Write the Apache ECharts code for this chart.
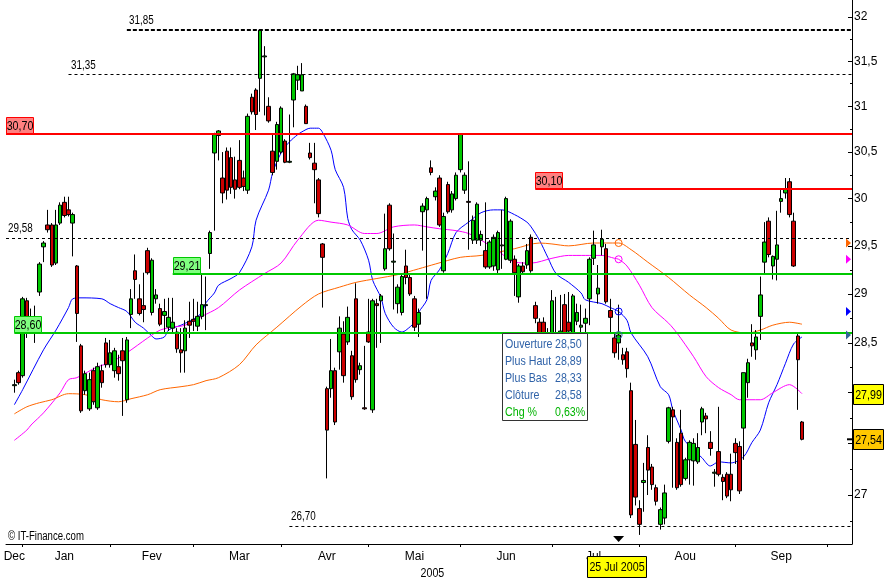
<!DOCTYPE html>
<html>
<head>
<meta charset="utf-8">
<script src="https://cdn.jsdelivr.net/npm/echarts@6/dist/echarts.min.js"></script>
<style>
html,body{margin:0;padding:0;background:#ffffff;}
#chart{width:889px;height:580px;}
</style>
</head>
<body>
<div id="chart"></div>
<script>
// ---------------- DATA ----------------
// trading-day index of the first candle (30 Dec 2004)
const firstCandleIndex = 2;
const open = [
28.07,28.20,28.17,28.93,28.72,28.70,29.02,29.49,29.72,29.72,
29.32,29.74,29.96,29.88,29.74,29.29,28.47,28.02,27.84,28.22,
27.85,28.22,28.50,28.28,28.22,28.26,28.42,27.93,28.79,29.24,
28.95,28.88,29.45,28.81,28.95,28.85,28.78,28.66,28.65,28.61,
28.43,28.42,28.72,28.74,28.67,28.77,28.88,29.42,30.49,30.68,
30.22,30.51,30.44,30.20,30.41,30.22,30.09,31.10,31.18,31.31,
31.55,31.00,30.51,30.40,30.50,30.62,30.39,31.07,31.29,31.17,
31.00,30.49,30.38,30.20,29.52,28.04,28.04,28.22,28.41,28.59,
28.51,28.37,28.95,28.23,27.85,28.61,27.83,28.90,28.93,29.26,
29.93,29.33,28.90,28.81,29.29,29.17,28.95,28.69,29.86,29.88,
30.33,30.02,30.22,29.24,30.15,29.88,30.00,30.31,30.09,29.97,
29.56,29.56,29.56,29.45,29.28,29.29,29.25,29.50,29.36,29.35,
29.36,28.97,29.29,29.30,29.59,28.88,28.71,28.71,28.58,28.55,
28.55,28.58,28.89,28.71,28.55,28.72,28.66,28.70,28.95,29.37,
29.00,29.49,29.47,28.83,28.55,28.50,28.38,28.41,28.02,27.49,
26.87,27.12,27.46,27.27,27.07,26.72,26.78,27.52,27.83,27.51,
27.60,27.16,27.34,27.33,27.32,27.71,27.77,27.51,27.21,27.42,
27.17,27.20,27.20,27.50,27.47,27.65,28.10,28.50,28.43,28.77,
29.33,29.76,29.29,29.36,29.97,30.06,30.18,29.76,28.57,27.71
];
const high = [
28.13,28.22,28.97,28.96,28.85,28.88,29.33,29.55,29.88,29.74,
29.88,29.96,30.02,30.02,29.85,29.30,28.49,28.22,28.20,28.25,
28.30,28.28,28.55,28.53,28.45,28.38,28.55,28.56,29.05,29.41,
29.10,29.22,29.48,29.37,29.05,28.90,28.95,28.96,28.96,28.65,
28.65,28.73,28.92,28.95,28.92,29.21,29.18,29.66,30.71,30.74,
30.50,30.55,30.55,30.45,30.63,30.30,30.92,31.14,31.20,31.85,
31.67,31.10,30.70,30.83,31.00,30.64,30.91,31.37,31.45,31.48,
31.02,30.60,30.60,30.22,29.53,28.06,28.54,28.25,28.77,28.72,
28.87,28.42,29.11,28.30,28.47,28.95,28.95,28.95,29.00,29.84,
29.95,29.63,29.10,29.20,29.46,29.20,28.98,28.85,29.95,30.02,
30.41,30.12,30.25,29.85,30.18,30.08,30.28,30.70,30.28,30.40,
29.82,29.96,29.66,29.96,29.56,29.62,29.66,29.88,30.02,29.78,
29.40,29.31,29.33,29.52,29.62,28.92,28.75,28.76,28.65,29.04,
28.97,28.99,29.00,29.02,29.00,28.90,28.89,28.85,29.38,29.66,
29.30,29.67,29.52,28.95,28.60,28.89,28.45,28.45,28.10,27.73,
26.95,27.31,27.58,27.30,27.10,26.88,27.10,27.86,27.86,27.55,
27.83,27.36,27.53,27.55,27.60,27.86,27.80,27.62,27.25,27.86,
27.20,27.22,27.40,27.55,27.52,28.20,28.34,28.69,28.63,29.18,
29.75,29.80,29.40,29.87,30.10,30.22,30.22,29.85,28.60,27.72
];
const low = [
28.00,28.08,28.15,28.55,28.62,28.50,28.98,29.33,29.64,29.28,
29.30,29.72,29.80,29.81,29.39,28.51,27.80,27.98,27.82,27.88,
27.83,28.05,28.25,28.25,28.15,28.12,27.77,27.90,28.65,28.95,
28.78,28.71,29.20,28.78,28.90,28.67,28.60,28.62,28.60,28.40,
28.20,28.20,28.55,28.62,28.62,28.74,28.63,29.26,29.66,30.41,
29.95,29.99,30.05,30.00,30.10,30.08,30.05,30.91,30.74,30.94,
30.90,30.82,30.25,30.31,30.48,30.38,30.38,30.77,31.18,31.17,
30.81,30.42,29.95,29.80,28.86,27.16,27.95,27.68,28.23,28.10,
28.48,27.93,28.10,28.18,27.83,28.50,27.80,28.45,28.50,29.24,
29.45,28.84,28.80,28.78,29.10,28.98,28.62,28.56,29.45,28.95,
30.25,29.98,29.70,29.22,29.84,29.85,29.98,30.28,30.05,29.46,
29.52,29.52,29.50,29.26,29.26,29.24,29.20,29.26,29.35,29.32,
28.98,28.91,29.20,29.26,29.22,28.70,28.45,28.45,28.45,28.50,
28.50,28.50,28.55,28.55,28.50,28.68,28.58,28.55,28.68,29.30,
28.90,29.40,28.90,28.60,28.35,28.33,28.28,28.15,26.78,26.90,
26.62,26.84,27.00,27.05,26.90,26.67,26.72,27.50,27.07,27.05,
27.08,27.14,27.10,27.09,27.30,27.58,27.60,27.38,27.08,27.18,
26.95,26.97,26.94,27.30,27.01,27.34,27.95,28.36,28.33,28.53,
29.21,29.38,29.15,29.14,29.85,30.00,29.80,29.28,27.83,27.53
];
const close = [
28.08,28.10,28.95,28.70,28.76,28.68,29.31,29.53,29.67,29.30,
29.72,29.93,29.82,29.83,29.83,28.80,27.82,28.19,28.13,27.91,
28.26,28.10,28.28,28.40,28.42,28.19,28.32,28.53,28.95,29.15,
28.80,28.84,29.22,29.35,28.99,28.69,28.82,28.76,28.71,28.44,
28.40,28.65,28.68,28.72,28.77,28.89,28.89,29.64,30.69,30.73,
30.06,30.09,30.12,30.10,30.12,30.13,30.89,30.94,30.91,31.85,
31.56,30.84,30.28,30.80,30.98,30.39,30.40,31.36,31.35,31.35,
30.81,30.44,30.31,29.84,29.38,27.63,28.22,27.71,28.65,28.17,
28.76,27.96,28.13,28.27,27.84,28.51,28.93,28.88,28.98,29.47,
29.47,29.34,29.07,29.18,29.17,29.00,28.66,28.81,29.92,30.00,
30.28,30.08,29.72,29.81,29.86,30.05,30.25,30.70,30.25,29.96,
29.77,29.94,29.62,29.28,29.54,29.59,29.64,29.51,30.00,29.76,
29.22,29.29,29.23,29.45,29.24,28.75,28.55,28.52,28.55,28.93,
28.60,28.62,28.58,28.62,28.98,28.81,28.68,28.75,29.36,29.51,
29.06,29.57,28.92,28.76,28.40,28.58,28.33,28.24,26.81,26.98,
26.72,27.14,27.24,27.10,26.94,26.86,27.02,27.85,27.76,27.07,
27.10,27.34,27.51,27.50,27.46,27.84,27.74,27.45,27.22,27.20,
27.13,26.99,27.05,27.41,27.04,28.20,28.30,28.47,28.56,28.99,
29.54,29.41,29.39,29.51,30.00,30.10,29.83,29.29,28.33,27.54
];
// moving averages: [trading-day index, value]
const maBlue = [[2,27.88],[4,28.03],[9,28.43],[12,28.63],[15,28.86],[16,28.95],[18,28.96],[23,28.95],[25,28.90],[27,28.86],[29,28.82],[31,28.71],[33,28.65],[35,28.57],[36,28.54],[38,28.56],[39,28.63],[42,28.68],[43,28.70],[45,28.74],[47,28.81],[48,28.91],[50,29.01],[51,29.09],[54,29.16],[56,29.22],[59,29.49],[60,29.77],[63,30.09],[64,30.28],[66,30.49],[68,30.61],[70,30.69],[71,30.72],[73,30.76],[75,30.76],[76,30.71],[78,30.52],[79,30.31],[81,30.12],[82,29.79],[83,29.67],[85,29.56],[87,29.35],[88,29.14],[90,28.96],[91,28.80],[93,28.66],[95,28.61],[96,28.63],[98,28.71],[99,28.81],[101,28.94],[102,29.14],[104,29.25],[106,29.42],[108,29.64],[111,29.75],[114,29.85],[117,29.88],[119,29.88],[122,29.83],[125,29.75],[126,29.70],[128,29.56],[130,29.38],[132,29.21],[135,29.12],[138,29.01],[139,28.94],[143,28.90],[145,28.86],[147,28.82],[149,28.73],[150,28.60],[154,28.36],[157,28.06],[159,27.98],[160,27.83],[162,27.63],[163,27.52],[167,27.36],[169,27.28],[171,27.32],[174,27.31],[177,27.37],[179,27.51],[181,27.63],[183,27.90],[185,28.08],[187,28.29],[189,28.49],[191,28.56]];
const maMagenta = [[2,27.53],[5,27.63],[6,27.68],[9,27.80],[13,28.00],[15,28.13],[17,28.15],[22,28.26],[25,28.30],[29,28.40],[34,28.55],[37,28.63],[40,28.66],[43,28.68],[47,28.77],[51,28.86],[56,29.04],[62,29.21],[66,29.32],[70,29.56],[75,29.77],[78,29.75],[82,29.72],[86,29.63],[89,29.63],[93,29.70],[98,29.72],[101,29.70],[104,29.68],[108,29.66],[111,29.63],[114,29.56],[118,29.45],[122,29.33],[126,29.32],[131,29.37],[135,29.40],[139,29.40],[143,29.40],[146,29.37],[147,29.36],[149,29.29],[152,29.09],[155,28.86],[159,28.70],[161,28.60],[165,28.36],[168,28.16],[171,28.05],[174,27.98],[176,27.93],[181,27.93],[184,28.00],[188,28.08],[191,27.99]];
const maOrange = [[2,27.79],[5,27.86],[8,27.90],[11,27.93],[15,27.99],[19,27.98],[23,27.93],[27,27.91],[30,27.94],[34,27.98],[37,28.03],[42,28.06],[45,28.08],[48,28.12],[51,28.15],[56,28.28],[60,28.48],[65,28.66],[71,28.88],[75,29.00],[80,29.07],[84,29.12],[89,29.16],[94,29.20],[99,29.26],[103,29.31],[109,29.38],[114,29.40],[122,29.47],[128,29.53],[131,29.52],[135,29.50],[141,29.53],[147,29.53],[150,29.46],[154,29.33],[159,29.17],[164,28.99],[168,28.86],[171,28.75],[174,28.63],[178,28.60],[181,28.63],[184,28.68],[188,28.71],[191,28.69]];
// x axis
const monthNames = ['Dec','Jan','Fev','Mar','Avr','Mai','Jun','Jul','Aou','Sep'];
const monthLabelIndex = [2,14,35,56,77,98,120,141,163,186];
const monthStartIndex = [4,25,45,66,87,109,131,152,175,197];
const categoryCount = 204;
const yearLabel = '2005';
// y axis
const yTickLabels = [27,27.5,28,28.5,29,29.5,30,30.5,31,31.5,32];
const yMinorTicks = [26.75,27.25,27.75,28.25,28.75,29.25,29.75,30.25,30.75,31.25,31.75];
// horizontal levels
const levelValues = [31.85,31.35,30.70,30.10,29.58,29.21,28.60,26.70];
const levelStartIndex = [29,15,0,127,0,40,2,68];
// crosshair date
const markerIndex = 147;
const markerDate = '25 Jul 2005';

// ---------------- CHART ----------------
const FONT = '"Liberation Sans",Arial,sans-serif';
const NARROW = 0.82;
const Y_MIN = 26.534, Y_MAX = 32.194;
const LAST = categoryCount - 1;
const fmt = (v, d) => v.toFixed(d).replace('.', ',');
const categories = Array.from({length: categoryCount}, (_, i) => String(i));
const candleData = open.map((o, k) => [firstCandleIndex + k, o, close[k], low[k], high[k]]);
const tickSet = new Set(monthStartIndex);
const labelMap = new Map(monthLabelIndex.map((idx, k) => [idx, monthNames[k]]));
const lnLabels = yTickLabels.map(Math.log);
const lnMinor = yMinorTicks.map(Math.log);

const levelKind = ['dashBold','dash','red','red','dash','green','green','dash'];
const levelStyle = {
  dashBold: {color:'#000000', width:2, type:[4,2]},
  dash: {color:'#000000', width:1, type:[3,3]},
  red: {color:'#ff0000', width:2, type:'solid'},
  green: {color:'#00c800', width:2, type:'solid'}
};

const chart = echarts.init(document.getElementById('chart'), null, {renderer:'canvas', width:889, height:580});

const option = {
  animation: false,
  backgroundColor: '#ffffff',
  grid: {left:6, right:37, top:0, bottom:36, containLabel:false, outerBoundsMode:'none'},
  xAxis: {
    type:'category', data:categories, boundaryGap:false,
    axisLine:{show:true, onZero:false, lineStyle:{color:'#000', width:1}},
    axisTick:{show:true, interval:(i)=>tickSet.has(i), length:3, lineStyle:{color:'#000'}},
    axisLabel:{show:true, interval:(i)=>labelMap.has(i), formatter:(v,i)=>labelMap.get(i)||'', color:'#000', fontSize:12, fontFamily:FONT, margin:7},
    splitLine:{show:false}
  },
  yAxis: [
    {type:'log', logBase:Math.E, min:Y_MIN, max:Y_MAX, position:'right',
     axisLine:{show:true, onZero:false, lineStyle:{color:'#000', width:1}},
     axisTick:{show:false}, axisLabel:{show:false}, splitLine:{show:false}, minorTick:{show:false}},
    {type:'value', min:Math.log(Y_MIN), max:Math.log(Y_MAX), position:'right',
     axisLine:{show:false}, splitLine:{show:false},
     axisTick:{show:true, inside:true, length:4, customValues:lnLabels, lineStyle:{color:'#000'}},
     axisLabel:{show:true, customValues:lnLabels, margin:2, color:'#000', fontSize:12, fontFamily:FONT,
       formatter:(v)=>{const p = Math.round(Math.exp(v)*4)/4; return Number.isInteger(p) ? String(p) : fmt(p,1);}}},
    {type:'value', min:Math.log(Y_MIN), max:Math.log(Y_MAX), position:'right',
     axisLine:{show:false}, splitLine:{show:false},
     axisTick:{show:true, inside:true, length:2, customValues:lnMinor, lineStyle:{color:'#000'}},
     axisLabel:{show:false}}
  ],
  series: [
    {type:'line', name:'MM20', data:maBlue, yAxisIndex:0, symbol:'none', smooth:0.3,
     lineStyle:{color:'#0000ff', width:1}, z:2},
    {type:'line', name:'MM50', data:maMagenta, yAxisIndex:0, symbol:'none', smooth:0.3,
     lineStyle:{color:'#ff00ff', width:1}, z:2},
    {type:'line', name:'MM100', data:maOrange, yAxisIndex:0, symbol:'none', smooth:0.3,
     lineStyle:{color:'#ff6600', width:1}, z:2},
    {type:'candlestick', name:'Cours', data:candleData, yAxisIndex:0, encode:{x:0, y:[1,2,3,4]}, barWidth:4,
     itemStyle:{color:'#00c800', color0:'#cc0000', borderColor:'#000', borderColor0:'#000', borderColorDoji:'#000', borderWidth:1},
     z:3,
     markLine:{silent:true, symbol:['none','none'], animation:false, label:{show:false}, z:6,
       data: levelValues.map((v,k)=>[{coord:[levelStartIndex[k], v], lineStyle:levelStyle[levelKind[k]]},{coord:[LAST, v]}])}}
  ]
};
chart.setOption(option);

// ---------- annotations positioned through the chart's own scales ----------
const P = (i, v) => chart.convertToPixel({seriesIndex:3}, [i, v]);
const els = [];
const F = (s) => s + 'px ' + FONT;
function txt(x, y, s, opt) {
  opt = opt || {};
  const al = opt.align || 'left', va = opt.va || 'middle';
  els.push({type:'text', x:x, y:y, z:opt.z||80, scaleX:(opt.sx||NARROW), scaleY:1,
    style:{text:s, x:0, y:0, fill:opt.fill||'#000', font:F(opt.size||12),
      align:al, verticalAlign:va, textAlign:al, textVerticalAlign:va}});
}
function rect(x, y, w, h, fill, stroke, z) {
  els.push({type:'rect', z:z||70, shape:{x:x, y:y, width:w, height:h}, style:{fill:fill, stroke:stroke, lineWidth:1}});
}

levelValues.forEach((v, k) => {
  const p = P(levelStartIndex[k], v);
  const kind = levelKind[k];
  const s = fmt(v, 2);
  const x = Math.round(p[0]), y = Math.round(p[1]);
  if (kind === 'red' || kind === 'green') {
    rect(x + 0.5, y - 16.5, 27, 16, kind === 'red' ? '#ff8080' : '#80ff80', kind === 'red' ? '#ff0000' : '#00c800');
    txt(x + 14, y - 8, s, {align:'center', size:13});
  } else {
    txt(x + 2, y - 3, s, {va:'bottom', size:12});
  }
});

// crosshair markers at the highlighted date
const findMA = (arr, i) => { const e = arr.find(d => d[0] === i); return e ? e[1] : null; };
const kM = markerIndex - firstCandleIndex;
const crossVals = [
  [findMA(maOrange, markerIndex), '#ff6600'],
  [findMA(maMagenta, markerIndex), '#ff00ff'],
  [findMA(maBlue, markerIndex), '#0000ff'],
  [close[kM], '#336699']
];
const xr = P(LAST, 28)[0];
crossVals.forEach(([v, c]) => {
  const p = P(markerIndex, v);
  els.push({type:'circle', z:75, shape:{cx:p[0], cy:p[1], r:3.5}, style:{fill:'none', stroke:c, lineWidth:1}});
  const y = P(LAST, v)[1];
  els.push({type:'polygon', z:75, shape:{points:[[xr-6, y-4.5],[xr-1, y],[xr-6, y+4.5]]}, style:{fill:c}});
});

// info box
const ib = {x:502.5, y:333.5, w:85, h:87};
rect(ib.x, ib.y, ib.w, ib.h, '#ffffff', '#333333', 90);
const chg = (close[kM] / close[kM-1] - 1) * 100;
const rows = [['Ouverture', fmt(open[kM],2)], ['Plus Haut', fmt(high[kM],2)], ['Plus Bas', fmt(low[kM],2)], ['Clôture', fmt(close[kM],2)], ['Chg %', fmt(chg,2) + '%']];
rows.forEach((r, j) => {
  const c = j === 4 ? '#00b400' : '#2f62a8';
  txt(ib.x + 2.5, ib.y + 11 + j * 17, r[0], {fill:c, size:13, z:91});
  txt(ib.x + 52.5, ib.y + 11 + j * 17, r[1], {fill:c, size:13, z:91});
});

// date marker
const yb = P(0, Y_MIN)[1];
const mx = P(markerIndex, 28)[0];
els.push({type:'polygon', z:75, shape:{points:[[mx-5.5, yb-8],[mx+5.5, yb-8],[mx, yb-2]]}, style:{fill:'#000'}});
rect(Math.round(mx) - 31.5, yb + 12.5, 59, 21, '#ffff00', '#000000', 90);
txt(Math.round(mx) - 2, yb + 23.5, markerDate, {align:'center', size:13, z:91});

// right-side value tags
const tagA = maMagenta[maMagenta.length - 1][1];
const tagB = close[close.length - 1];
[[tagA, '#ffff00'], [tagB, '#ffc800']].forEach(([v, c]) => {
  const y = Math.round(P(LAST, v)[1]);
  rect(xr + 1.5, y - 9.5, 30, 20, c, '#000000', 90);
  txt(xr + 16.5, y + 1, fmt(v, 2), {align:'center', size:13, z:91});
});
{
  const y = P(LAST, tagB)[1];
  els.push({type:'line', z:75, shape:{x1:xr-5, y1:y, x2:xr, y2:y}, style:{stroke:'#000', lineWidth:2}});
}

// footer texts
txt(8, yb - 7.5, '\u00A9 IT-Finance.com', {size:12, sx:0.8});
txt(P(98, 28)[0] + 18, yb + 29, yearLabel, {align:'center', size:13});

chart.setOption({graphic:{elements:els}});
</script>
</body>
</html>
